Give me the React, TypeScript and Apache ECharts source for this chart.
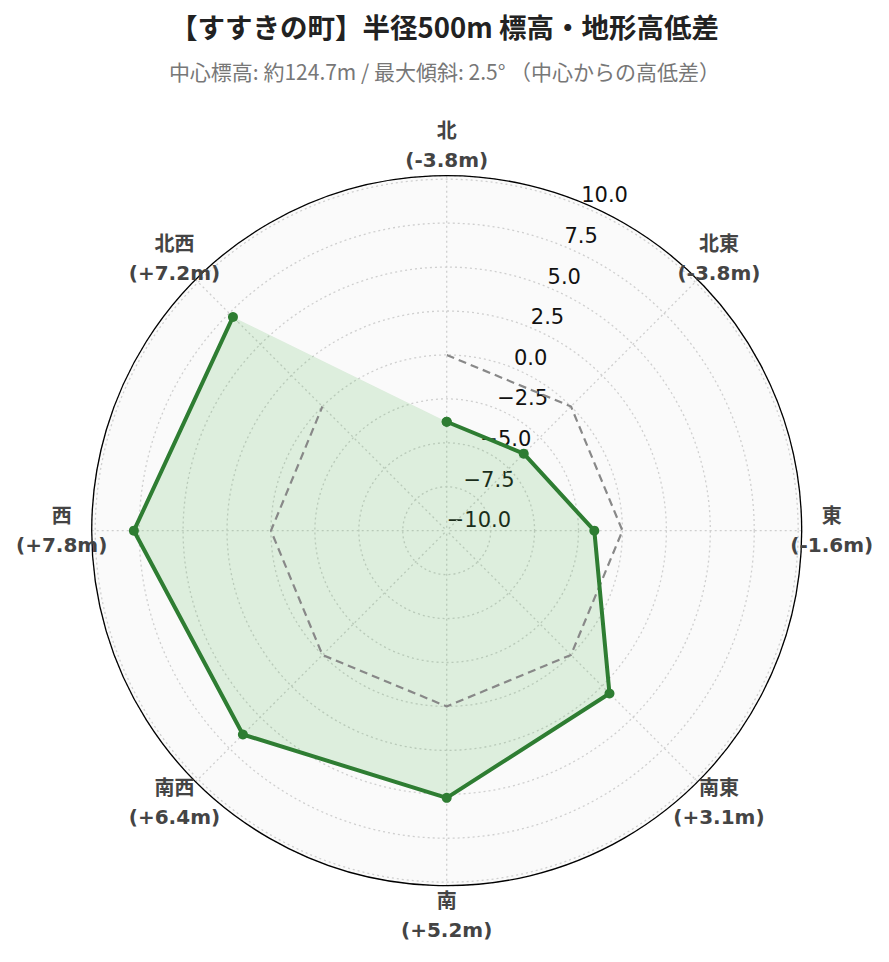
import React, { useEffect, useRef } from "react";
import * as echarts from "echarts";

const directions = ["北", "北東", "東", "南東", "南", "南西", "西", "北西"];
const elevationDiff = [-3.8, -3.8, -1.6, 3.1, 5.2, 6.4, 7.8, 7.2];
const zeroLine = [0, 0, 0, 0, 0, 0, 0, 0];
const radiusMin = -10;
const radiusMax = 10.2;
const radiusInterval = 2.5;
const titleText = "【すすきの町】半径500m 標高・地形高低差";
const subtitleText = "中心標高: 約124.7m / 最大傾斜: 2.5° （中心からの高低差）";

const W = 889;
const H = 962;
const CX = 446.7;
const CY = 530.7;
const R = 355;
const LABEL_R = 385;

function closed(vals: number[]) {
  const pts = vals.map((v, i) => [v, i]);
  pts.push([vals[0], 0]);
  return pts;
}

export default function App() {
  const ref = useRef<HTMLDivElement>(null);
  useEffect(() => {
    if (!ref.current) return;
    const chart = echarts.init(ref.current, null, { renderer: "svg" });
    const labelGraphics: any[] = directions.map((d, i) => {
      const a = ((90 - 45 * i) * Math.PI) / 180;
      const v = elevationDiff[i];
      const s = (v >= 0 ? "+" : "-") + Math.abs(v).toFixed(1);
      return {
        type: "text",
        x: CX + LABEL_R * Math.cos(a),
        y: CY - LABEL_R * Math.sin(a),
        style: {
          text: `${d}\n(${s}m)`,
          fontSize: 20,
          fontWeight: "bold",
          fontFamily: "DejaVu Sans, Noto Sans CJK JP",
          fill: "#444",
          align: "center",
          verticalAlign: "middle",
          lineHeight: 29,
        },
        z: 10,
      };
    });
    labelGraphics.push({
      type: "circle",
      shape: { cx: CX, cy: CY, r: R },
      style: { fill: "#fafafa", stroke: "none" },
      z: -100,
      silent: true,
    });
    const option: any = {
      animation: false,
      title: {
        text: titleText,
        subtext: subtitleText,
        left: "center",
        top: 7,
        itemGap: 21,
        textStyle: {
          fontFamily: "Noto Sans CJK JP",
          fontSize: 27.5,
          fontWeight: "bold",
          color: "#222",
        },
        subtextStyle: {
          fontFamily: "Noto Sans CJK JP",
          fontSize: 21,
          color: "#777",
        },
      },
      polar: [
        { center: [CX, CY], radius: R },
        { center: [CX, CY], radius: R },
      ],
      angleAxis: [
        {
          polarIndex: 0,
          type: "value",
          min: 0,
          max: 360,
          startAngle: 67.5,
          axisLine: { show: true, lineStyle: { color: "#000", width: 1.3 } },
          axisTick: { show: false },
          axisLabel: { show: false },
          splitLine: { show: false },
          z: 1,
        },
        {
          polarIndex: 1,
          type: "category",
          data: directions,
          startAngle: 90,
          clockwise: true,
          boundaryGap: false,
          axisLine: { show: false },
          axisTick: { show: false },
          axisLabel: { show: false },
          splitLine: {
            show: true,
            lineStyle: { color: "#cfcfcf", type: [2, 3], width: 1.3 },
          },
          z: 0,
        },
      ],
      radiusAxis: [
        {
          polarIndex: 0,
          type: "value",
          min: radiusMin,
          max: radiusMax,
          interval: radiusInterval,
          axisLine: { show: false },
          axisTick: { show: false },
          splitLine: {
            show: true,
            lineStyle: { color: "#cfcfcf", type: [2, 3], width: 1.3 },
          },
          axisLabel: {
            show: true,
            margin: 0,
            align: "left",
            verticalAlign: "bottom",
            fontFamily: "DejaVu Sans",
            fontSize: 21,
            color: "#111",
            formatter: (v: number) => {
              const k = v / radiusInterval;
              if (Math.abs(k - Math.round(k)) > 1e-6) return "";
              return v.toFixed(1).replace("-", "\u2212");
            },
          },
          z: -1,
        },
        {
          polarIndex: 1,
          type: "value",
          min: radiusMin,
          max: radiusMax,
          interval: radiusInterval,
          axisLine: { show: false },
          axisTick: { show: false },
          axisLabel: { show: false },
          splitLine: { show: false },
        },
      ],
      series: [
        {
          type: "custom",
          coordinateSystem: "polar",
          polarIndex: 1,
          data: elevationDiff.map((v, i) => [v, i]),
          renderItem: (params: any, api: any) => {
            if (params.dataIndex !== 0) return null;
            const pts = elevationDiff.map((v, i) => api.coord([v, i]));
            return {
              type: "polygon",
              shape: { points: pts },
              style: { fill: "rgba(76,175,80,0.17)", stroke: "none" },
            };
          },
          z: 2,
          silent: true,
        },
        {
          type: "line",
          coordinateSystem: "polar",
          polarIndex: 1,
          clip: false,
          data: closed(zeroLine),
          symbol: "none",
          lineStyle: { color: "#888", width: 2.2, type: [8, 5] },
          z: 3,
        },
        {
          type: "line",
          coordinateSystem: "polar",
          polarIndex: 1,
          clip: false,
          data: closed(elevationDiff),
          symbol: "circle",
          symbolSize: 10,
          itemStyle: { color: "#2e7d32" },
          lineStyle: { color: "#2e7d32", width: 4 },
          z: 4,
        },
      ],
      graphic: labelGraphics,
    };
    chart.setOption(option);
    return () => chart.dispose();
  }, []);
  return (
    <div
      ref={ref}
      style={{ position: "absolute", left: 0, top: 0, width: W, height: H, background: "#fff" }}
    />
  );
}
